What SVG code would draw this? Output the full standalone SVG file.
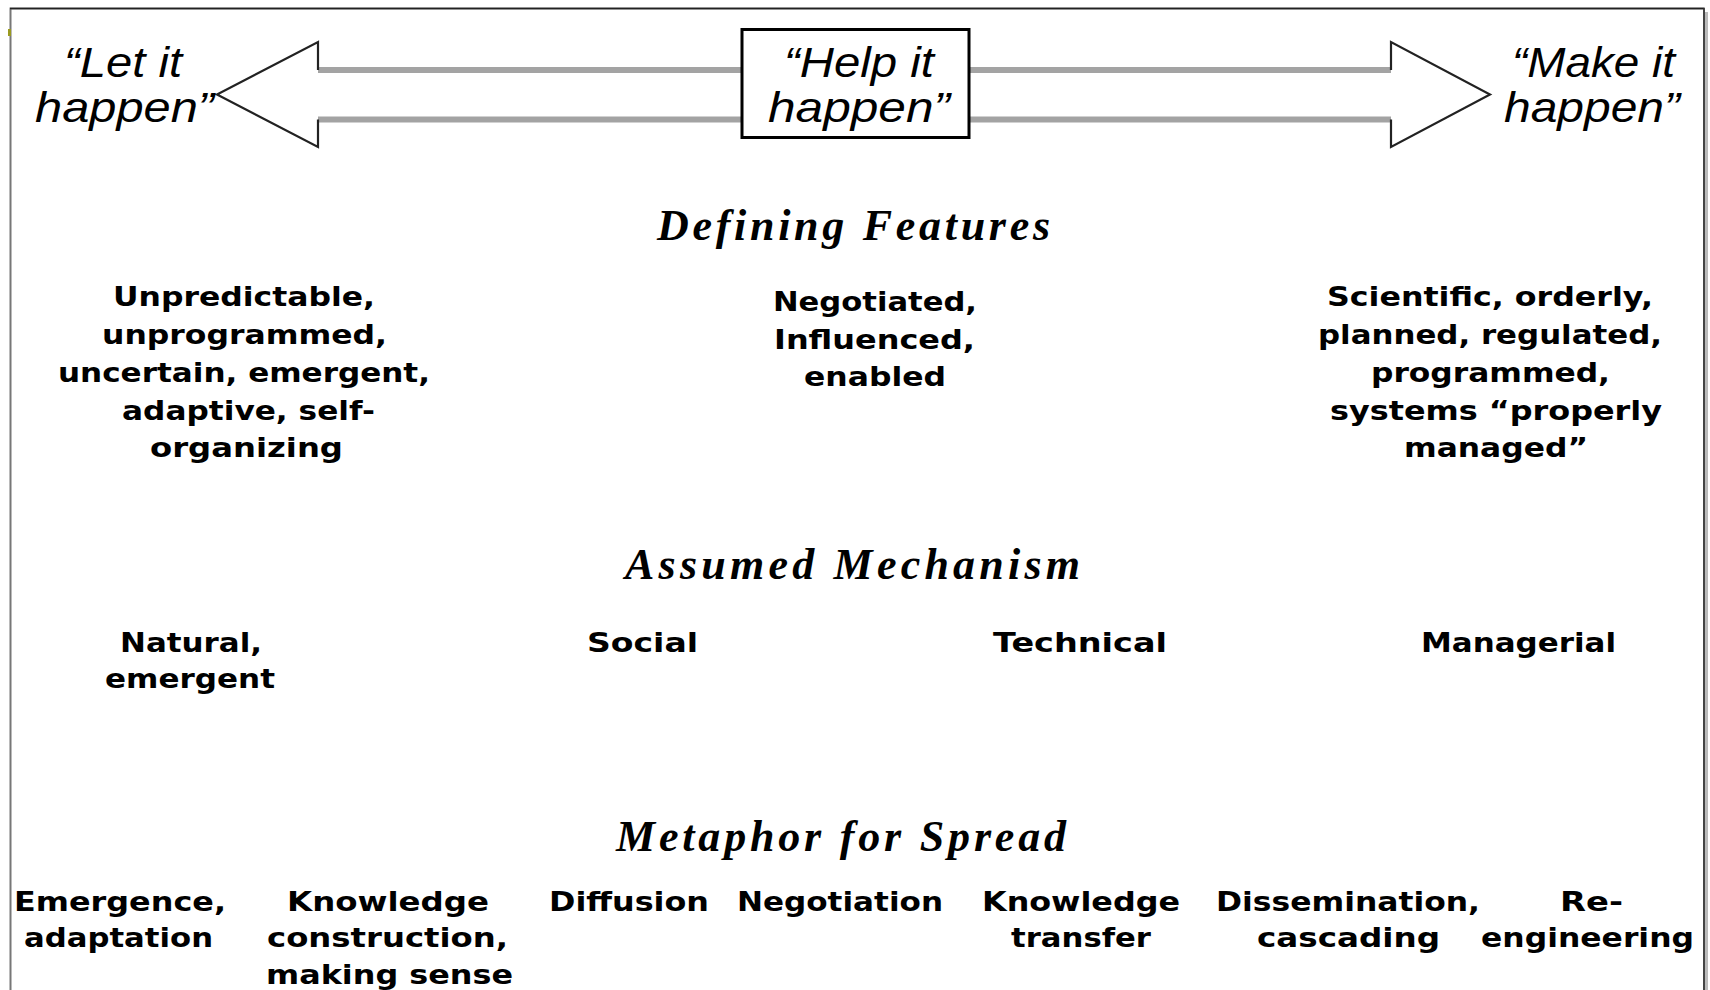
<svg xmlns="http://www.w3.org/2000/svg" width="1710" height="990" viewBox="0 0 1710 990">
<style>
.top{font-family:"Liberation Sans",Arial,sans-serif;font-style:italic;font-size:42px;fill:#000;text-anchor:middle}
.hdr{font-family:"Liberation Serif","Times New Roman",serif;font-style:italic;font-weight:bold;font-size:44px;fill:#000;text-anchor:middle}
.bd{font-family:"DejaVu Sans",Verdana,sans-serif;font-weight:bold;font-size:27px;fill:#000;text-anchor:middle}
.shaft{stroke:#a3a3a3;stroke-width:6;fill:none}
.head{stroke:#222;stroke-width:2.2;fill:#fff;stroke-linejoin:miter}
</style>
<rect width="1710" height="990" fill="#fff"/>
<g id="frame">
<path d="M10.5,990 V8.5 H1704 V990" fill="none" stroke="#777" stroke-width="2"/>
<path d="M10,8.5 H1704" stroke="#222" stroke-width="1.5"/>
<path d="M1704,8 V990" stroke="#333" stroke-width="1.5"/>
<path d="M1706.5,12 V990" stroke="#bbb" stroke-width="3"/>
<rect x="8" y="29" width="3" height="7" fill="#9a9a20"/>
</g>
<g id="connectors">
<path class="shaft" d="M318,70 H742 M318,119.5 H742"/>
<path class="shaft" d="M969,70 H1391 M969,119.5 H1391"/>
<path class="head" d="M318,70 V42 L217,94.5 L318,147 V119.5"/>
<path class="head" d="M1391,70 V42 L1490,94.5 L1391,147 V119.5"/>
</g>
<g id="node-let">
<text class="top" x="123" y="77" textLength="118" lengthAdjust="spacingAndGlyphs">“Let it</text>
<text class="top" x="124.5" y="122" textLength="179" lengthAdjust="spacingAndGlyphs">happen”</text>
</g>
<g id="node-help">
<rect x="742" y="29.5" width="227" height="108" fill="#fff" stroke="#000" stroke-width="3"/>
<text class="top" x="859" y="77" textLength="150" lengthAdjust="spacingAndGlyphs">“Help it</text>
<text class="top" x="859" y="122" textLength="182" lengthAdjust="spacingAndGlyphs">happen”</text>
</g>
<g id="node-make">
<text class="top" x="1593.5" y="77" textLength="163" lengthAdjust="spacingAndGlyphs">“Make it</text>
<text class="top" x="1592" y="122" textLength="176" lengthAdjust="spacingAndGlyphs">happen”</text>
</g>
<g id="defining-features">
<text class="hdr" x="853.5" y="240" textLength="393">Defining Features</text>
</g>
<g id="features-let">
<text class="bd" x="244" y="306" textLength="262" lengthAdjust="spacingAndGlyphs">Unpredictable,</text>
<text class="bd" x="244.5" y="344" textLength="285" lengthAdjust="spacingAndGlyphs">unprogrammed,</text>
<text class="bd" x="244" y="382" textLength="372" lengthAdjust="spacingAndGlyphs">uncertain, emergent,</text>
<text class="bd" x="248.5" y="420" textLength="253" lengthAdjust="spacingAndGlyphs">adaptive, self-</text>
<text class="bd" x="246.5" y="457" textLength="193" lengthAdjust="spacingAndGlyphs">organizing</text>
</g>
<g id="features-help">
<text class="bd" x="875" y="311" textLength="204" lengthAdjust="spacingAndGlyphs">Negotiated,</text>
<text class="bd" x="874.5" y="349" textLength="201" lengthAdjust="spacingAndGlyphs">Influenced,</text>
<text class="bd" x="875" y="386" textLength="142" lengthAdjust="spacingAndGlyphs">enabled</text>
</g>
<g id="features-make">
<text class="bd" x="1490" y="306" textLength="326" lengthAdjust="spacingAndGlyphs">Scientific, orderly,</text>
<text class="bd" x="1490" y="344" textLength="344" lengthAdjust="spacingAndGlyphs">planned, regulated,</text>
<text class="bd" x="1490.5" y="382" textLength="239" lengthAdjust="spacingAndGlyphs">programmed,</text>
<text class="bd" x="1496" y="420" textLength="332" lengthAdjust="spacingAndGlyphs">systems “properly</text>
<text class="bd" x="1496" y="457" textLength="184" lengthAdjust="spacingAndGlyphs">managed”</text>
</g>
<g id="assumed-mechanism">
<text class="hdr" x="852.5" y="579" textLength="455">Assumed Mechanism</text>
</g>
<g id="mechanism-natural">
<text class="bd" x="191" y="652" textLength="142" lengthAdjust="spacingAndGlyphs">Natural,</text>
<text class="bd" x="190" y="688" textLength="170" lengthAdjust="spacingAndGlyphs">emergent</text>
</g>
<g id="mechanism-social">
<text class="bd" x="642.5" y="652" textLength="111" lengthAdjust="spacingAndGlyphs">Social</text>
</g>
<g id="mechanism-technical">
<text class="bd" x="1080" y="652" textLength="174" lengthAdjust="spacingAndGlyphs">Technical</text>
</g>
<g id="mechanism-managerial">
<text class="bd" x="1518.5" y="652" textLength="195" lengthAdjust="spacingAndGlyphs">Managerial</text>
</g>
<g id="metaphor-for-spread">
<text class="hdr" x="841" y="851" textLength="450">Metaphor for Spread</text>
</g>
<g id="spread-emergence">
<text class="bd" x="120" y="911" textLength="212" lengthAdjust="spacingAndGlyphs">Emergence,</text>
<text class="bd" x="118.5" y="947" textLength="189" lengthAdjust="spacingAndGlyphs">adaptation</text>
</g>
<g id="spread-knowledge-construction">
<text class="bd" x="388" y="911" textLength="202" lengthAdjust="spacingAndGlyphs">Knowledge</text>
<text class="bd" x="387.5" y="947" textLength="241" lengthAdjust="spacingAndGlyphs">construction,</text>
<text class="bd" x="389.5" y="984" textLength="247" lengthAdjust="spacingAndGlyphs">making sense</text>
</g>
<g id="spread-diffusion">
<text class="bd" x="629" y="911" textLength="160" lengthAdjust="spacingAndGlyphs">Diffusion</text>
</g>
<g id="spread-negotiation">
<text class="bd" x="840" y="911" textLength="206" lengthAdjust="spacingAndGlyphs">Negotiation</text>
</g>
<g id="spread-knowledge-transfer">
<text class="bd" x="1081" y="911" textLength="198" lengthAdjust="spacingAndGlyphs">Knowledge</text>
<text class="bd" x="1081" y="947" textLength="140" lengthAdjust="spacingAndGlyphs">transfer</text>
</g>
<g id="spread-dissemination">
<text class="bd" x="1348" y="911" textLength="264" lengthAdjust="spacingAndGlyphs">Dissemination,</text>
<text class="bd" x="1348.5" y="947" textLength="183" lengthAdjust="spacingAndGlyphs">cascading</text>
</g>
<g id="spread-reengineering">
<text class="bd" x="1591.5" y="911" textLength="63" lengthAdjust="spacingAndGlyphs">Re-</text>
<text class="bd" x="1587.5" y="947" textLength="213" lengthAdjust="spacingAndGlyphs">engineering</text>
</g>
</svg>
